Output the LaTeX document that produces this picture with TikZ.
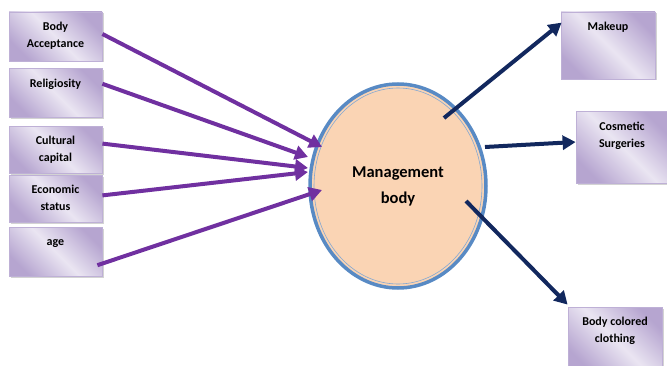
\documentclass[tikz,border=0pt]{standalone}
\usepackage{fontspec}
\setmainfont{Carlito}
\usetikzlibrary{arrows.meta,positioning,calc,shapes.geometric,shadows}
\definecolor{lavlight}{RGB}{234,229,242}
\definecolor{lavdark}{RGB}{182,165,208}
\definecolor{lavedge}{RGB}{190,176,214}
\definecolor{peach}{RGB}{250,212,180}
\definecolor{rimblue}{RGB}{88,138,196}
\definecolor{arrpurple}{RGB}{112,48,160}
\definecolor{arrnavy}{RGB}{18,40,94}

\begin{document}
\begin{tikzpicture}[x=1pt,y=1pt,
  factor/.style={rectangle,draw=lavedge,line width=0.8pt,top color=lavdark,bottom color=lavdark,middle color=lavlight,shading angle=135,minimum width=93pt,inner sep=0pt,drop shadow={shadow xshift=1.5pt,shadow yshift=-1.5pt,opacity=0.35}},
  caption/.style={anchor=north,align=center,inner sep=0pt,font=\bfseries\fontsize{12}{17}\selectfont,execute at begin node=\vphantom{Bd}},
  hub/.style={ellipse,draw=rimblue,line width=3.5pt,fill=peach,minimum width=176pt,minimum height=204pt,inner sep=0pt,align=center,font=\bfseries\fontsize{16.5}{26}\selectfont},
  inarrow/.style={-{Triangle[length=13pt,width=14pt]},line width=4pt,arrpurple},
  outarrow/.style={-{Triangle[length=13pt,width=14pt]},line width=4pt,arrnavy}
]
\useasboundingbox (0,0) rectangle (667,365);
% influencing factors
\node[factor,minimum height=49pt] (ba) at (55.5,328.5) {};
\node[factor,minimum height=49pt,below=7pt of ba] (rel) {};
\node[factor,minimum height=47pt,below=8pt of rel] (cul) {};
\node[factor,minimum height=47pt,below=1pt of cul] (eco) {};
\node[factor,minimum height=49pt,below=4pt of eco] (age) {};
\node[caption,below=10pt of ba.north] (tba) {Body\\Acceptance};
\node[caption,below=10pt of rel.north] (trel) {Religiosity};
\node[caption,below=10pt of cul.north] (tcul) {Cultural\\capital};
\node[caption,below=10pt of eco.north] (teco) {Economic\\status};
\node[caption,below=10pt of age.north] (tage) {age};
% central concept
\node[hub] (mb) at (398,179) {Management\\body};
\draw[rimblue!75,line width=0.6pt] (mb.center) ellipse (84 and 98);
% outcomes
\node[factor,minimum width=94pt,minimum height=67pt] (mak) at (608,319.5) {};
\node[factor,minimum width=92pt,minimum height=72pt] (cos) at (622,218) {};
\node[factor,minimum width=94pt,minimum height=65pt] (bcc) at (615,25.5) {};
\node[caption,below=10.5pt of mak.north] (tmak) {Makeup};
\node[caption,below=11pt of cos.north] (tcos) {Cosmetic\\Surgeries};
\node[caption,below=10.5pt of bcc.north] (tbcc) {Body colored\\clothing};
% arrows in
\draw[inarrow] ([yshift=2.5pt]ba.east) -- ($(mb.center)+(-76,39)$);
\draw[inarrow] ([yshift=9.5pt]rel.east) -- ($(mb.center)+(-90,29)$);
\draw[inarrow] ([yshift=6.5pt]cul.east) -- ($(mb.center)+(-90,18)$);
\draw[inarrow] ([yshift=3.5pt]eco.east) -- ($(mb.center)+(-90,14)$);
\draw[inarrow] ([xshift=-5pt,yshift=-13.5pt]age.east) -- ($(mb.center)+(-76,-4)$);
% arrows out
\draw[outarrow] ($(mb.center)+(46,68)$) -- ([xshift=1pt,yshift=-11pt]mak.north west);
\draw[outarrow] ($(mb.center)+(87,39)$) -- ([yshift=5pt]cos.west);
\draw[outarrow] ($(mb.center)+(68,-15)$) -- ([yshift=2pt]bcc.north west);
\end{tikzpicture}
\end{document}
